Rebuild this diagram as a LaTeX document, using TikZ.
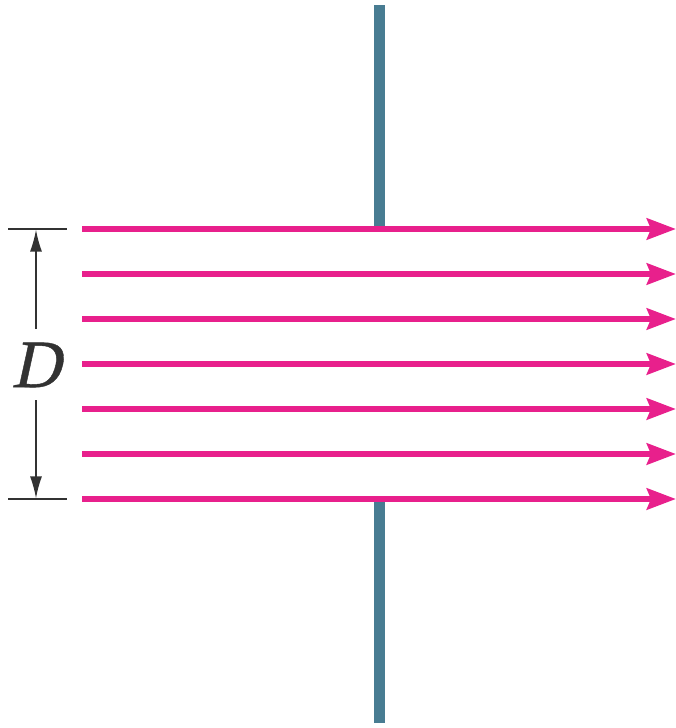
\documentclass[tikz,border=0pt]{standalone}
\usepackage{fontspec}
\setmainfont{Liberation Serif}
\newfontfamily\dimfont{Liberation Serif}[FakeSlant=0.22, FakeBold=0.6]
\usetikzlibrary{arrows.meta}
\definecolor{beampink}{RGB}{232,32,140}
\definecolor{wallblue}{RGB}{72,124,146}
\definecolor{dimgray}{RGB}{50,50,50}

\begin{document}
\begin{tikzpicture}[
    x=1pt, y=-1pt,
    ray/.style={beampink, line width=6pt, -{Stealth[length=29pt, width=21pt, inset=4pt]}},
    wall/.style={wallblue, line width=11pt},
    tick/.style={dimgray, line width=1.3pt},
    dimarrow/.style={dimgray, line width=1.5pt, -{Latex[length=22pt, width=12pt]}}
]
\useasboundingbox (0,0) rectangle (676,728);
% slit walls
\draw[wall] (379.5,5) -- (379.5,229);
\draw[wall] (379.5,499) -- (379.5,723);
% beam
\coordinate (s1) at (82,229); \coordinate (e1) at (676,229);
\coordinate (s2) at (82,274); \coordinate (e2) at (676,274);
\coordinate (s3) at (82,319); \coordinate (e3) at (676,319);
\coordinate (s4) at (82,364); \coordinate (e4) at (676,364);
\coordinate (s5) at (82,409); \coordinate (e5) at (676,409);
\coordinate (s6) at (82,454); \coordinate (e6) at (676,454);
\coordinate (s7) at (82,499); \coordinate (e7) at (676,499);
\draw[ray] (s1) -- (e1);
\draw[ray] (s2) -- (e2);
\draw[ray] (s3) -- (e3);
\draw[ray] (s4) -- (e4);
\draw[ray] (s5) -- (e5);
\draw[ray] (s6) -- (e6);
\draw[ray] (s7) -- (e7);
% width D
\coordinate (tl) at (8,229); \coordinate (tr) at (67,229);
\coordinate (bl) at (8,499); \coordinate (br) at (67,499);
\draw[tick] (tl) -- (tr);
\draw[tick] (bl) -- (br);
\node[inner sep=0pt, font=\dimfont\fontsize{68}{68}\selectfont, text=dimgray] (dlabel) at (36,365) {D};
\draw[dimarrow] (36,329) -- (36,229.6);
\draw[dimarrow] (36,400) -- (36,498.4);
\end{tikzpicture}
\end{document}
